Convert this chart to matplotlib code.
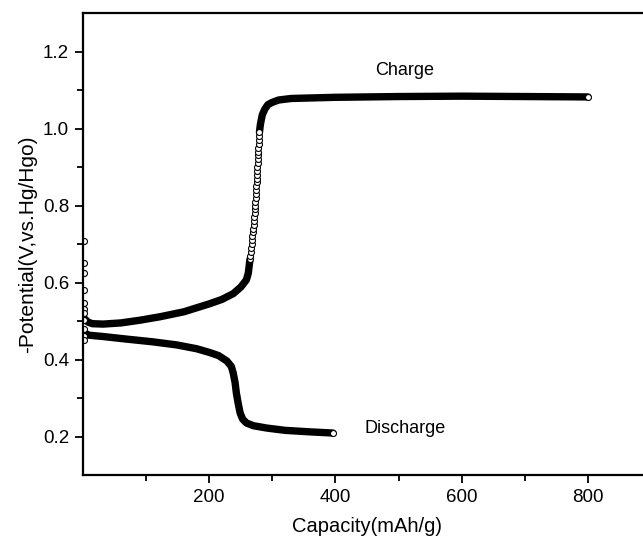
import matplotlib
matplotlib.use("Agg")
import matplotlib.pyplot as plt
from matplotlib.ticker import FixedLocator

plt.rcParams['font.family'] = ['Liberation Sans', 'DejaVu Sans']

# charge curve (mAh/g, V) - lower branch, steep rise, plateau
charge_cap_low = [3, 8, 15, 32, 60, 90, 122, 160, 201, 220, 238, 250, 259, 262, 264.5]
charge_v_low = [0.505, 0.497, 0.493, 0.492, 0.495, 0.502, 0.511, 0.524, 0.545,
                0.556, 0.571, 0.588, 0.607, 0.625, 0.66]
rise_cap = [264.5, 265.3, 266.0, 266.7, 267.3, 267.9, 268.5, 269.1, 269.7, 270.3,
            270.9, 271.5, 272.0, 272.5, 272.9, 273.3, 273.7, 274.1, 274.5, 274.8,
            275.1, 275.4, 275.7, 276.0, 276.3, 276.6, 276.9, 277.2, 277.5, 277.8,
            278.1, 278.5, 279.0, 279.6]
rise_v = [0.66, 0.67, 0.68, 0.69, 0.70, 0.71, 0.72, 0.73, 0.74, 0.75,
          0.76, 0.77, 0.78, 0.79, 0.80, 0.81, 0.82, 0.83, 0.84, 0.85,
          0.86, 0.87, 0.88, 0.89, 0.90, 0.91, 0.92, 0.93, 0.94, 0.95,
          0.96, 0.97, 0.98, 0.99]
charge_cap_high = [279.6, 281, 284, 288, 293, 300, 310, 330, 400, 500, 600, 700, 800]
charge_v_high = [0.99, 1.01, 1.035, 1.05, 1.062, 1.068, 1.074, 1.078, 1.081, 1.083,
                 1.084, 1.083, 1.082]

# initial spike points at the start of the test
spike_cap = [2, 2, 2, 2, 2, 2, 2, 2, 2, 2, 2]
spike_v = [0.708, 0.65, 0.625, 0.58, 0.547, 0.53, 0.52, 0.503, 0.48, 0.46, 0.45]

# discharge curve
dis_cap = [3, 10, 30, 69, 110, 148, 180, 201, 215, 228, 235, 238, 241, 243, 246,
           249, 253, 259, 270, 291, 320, 360, 396]
dis_v = [0.468, 0.463, 0.46, 0.453, 0.446, 0.438, 0.428, 0.418, 0.41, 0.396, 0.382,
         0.365, 0.34, 0.313, 0.285, 0.261, 0.245, 0.235, 0.228, 0.222, 0.216,
         0.212, 0.209]

fig = plt.figure(figsize=(6.43, 5.4), dpi=100)
ax = fig.add_axes([83 / 643, 65 / 540, 568 / 643, 462 / 540])

band = dict(color='black', lw=5.3, solid_capstyle='round', solid_joinstyle='round')
circ = dict(ls='none', marker='o', ms=4.3, mfc='white', mec='black', mew=0.8)

ax.plot(charge_cap_low, charge_v_low, **band)
ax.plot(charge_cap_high, charge_v_high, **band)
ax.plot(dis_cap, dis_v, **band)
ax.plot(rise_cap, rise_v, **circ)
ax.plot(spike_cap, spike_v, **circ)
ax.plot(charge_cap_high[-1:], charge_v_high[-1:], **circ)
ax.plot(dis_cap[-1:], dis_v[-1:], **circ)

ax.text(510, 1.15, "Charge", ha='center', va='center', fontsize=13)
ax.text(510, 0.22, "Discharge", ha='center', va='center', fontsize=13)

ax.set_xlim(0, 900)
ax.set_ylim(0.1, 1.3)
ax.xaxis.set_major_locator(FixedLocator([200, 400, 600, 800]))
ax.xaxis.set_minor_locator(FixedLocator([100, 300, 500, 700, 900]))
ax.yaxis.set_major_locator(FixedLocator([0.2, 0.4, 0.6, 0.8, 1.0, 1.2]))
ax.yaxis.set_minor_locator(FixedLocator([0.3, 0.5, 0.7, 0.9, 1.1]))
ax.set_yticklabels(["0.2", "0.4", "0.6", "0.8", "1.0", "1.2"])
ax.tick_params(which='major', direction='out', length=6, width=1.3, labelsize=13.5, pad=4)
ax.tick_params(which='minor', direction='out', length=4, width=1.3)
for s in ax.spines.values():
    s.set_linewidth(1.6)

ax.set_xlabel("Capacity(mAh/g)", fontsize=14.5, labelpad=8)
ax.set_ylabel("-Potential(V,vs.Hg/Hgo)", fontsize=15, labelpad=4)

fig.savefig("out.png", dpi=100)
